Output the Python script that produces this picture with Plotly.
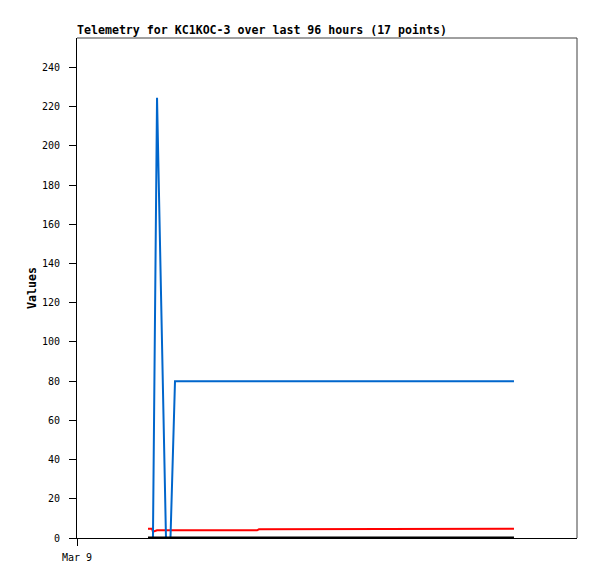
import plotly.graph_objects as go

# timestamps of the 17 telemetry points
times = [
    "2024-03-09 13:38", "2024-03-09 14:24", "2024-03-09 14:35", "2024-03-09 15:22",
    "2024-03-09 17:05", "2024-03-09 17:57", "2024-03-09 18:49", "2024-03-09 23:30",
    "2024-03-10 10:34", "2024-03-10 10:56", "2024-03-10 18:50", "2024-03-11 09:30",
    "2024-03-11 18:26", "2024-03-11 18:49", "2024-03-12 03:30", "2024-03-12 09:15",
    "2024-03-12 11:54",
]
blue_vals = [0, 0, 0, 224.5, 0, 0, 80, 80, 80, 80, 80, 80, 80, 80, 80, 80, 80]
red_vals = [4.7, 4.7, 3.2, 3.9, 3.9, 3.9, 3.9, 3.9, 3.9, 4.4, 4.4, 4.4, 4.4, 4.7, 4.7, 4.7, 4.7]
black_vals = [0] * 17

x_tick_vals = ["2024-03-09 00:00"]
x_tick_text = ["Mar 9"]
y_tick_vals = list(range(0, 241, 20))

MONO = "DejaVu Sans Mono"

fig = go.Figure()
fig.add_trace(go.Scatter(x=times, y=red_vals, mode="lines",
                         line=dict(color="#ff0000", width=2), showlegend=False))
fig.add_trace(go.Scatter(x=times, y=blue_vals, mode="lines",
                         line=dict(color="#0066cc", width=2), showlegend=False))
fig.add_trace(go.Scatter(x=times, y=black_vals, mode="lines",
                         line=dict(color="#000000", width=3), showlegend=False))

fig.update_layout(
    width=589, height=571,
    margin=dict(l=69, r=20, t=30, b=41),
    paper_bgcolor="white", plot_bgcolor="white",
    font=dict(family=MONO, size=10, color="black"),
    xaxis=dict(
        type="date",
        range=["2024-03-09 00:00", "2024-03-13 00:00"],
        tickvals=x_tick_vals, ticktext=x_tick_text,
        ticks="outside", ticklen=7, tickcolor="black", tickwidth=1,
        showline=True, linecolor="black", linewidth=1,
        showgrid=False, zeroline=False,
        ticklabelstandoff=3,
        tickfont=dict(family=MONO, size=10),
    ),
    yaxis=dict(
        range=[0, 255],
        tickvals=y_tick_vals,
        ticks="outside", ticklen=7, tickcolor="black", tickwidth=1,
        showline=True, linecolor="black", linewidth=1,
        showgrid=False, zeroline=False,
        ticklabelstandoff=7,
        tickfont=dict(family=MONO, size=10),
        title=dict(text="<b>Values</b>", font=dict(family=MONO, size=11.6), standoff=2),
    ),
    shapes=[
        dict(type="line", xref="paper", yref="paper", x0=0, x1=1, y0=1, y1=1,
             line=dict(color="#404040", width=1)),
        dict(type="line", xref="paper", yref="paper", x0=1, x1=1, y0=0, y1=1,
             line=dict(color="#404040", width=1)),
    ],
    annotations=[
        dict(text="<b>Telemetry for KC1KOC-3 over last 96 hours (17 points)</b>",
             xref="paper", yref="paper", x=0, y=1, xanchor="left", yanchor="bottom",
             xshift=-2, yshift=-1, showarrow=False,
             font=dict(family=MONO, size=11.6, color="black")),
    ],
)

fig.write_html("out.html")
